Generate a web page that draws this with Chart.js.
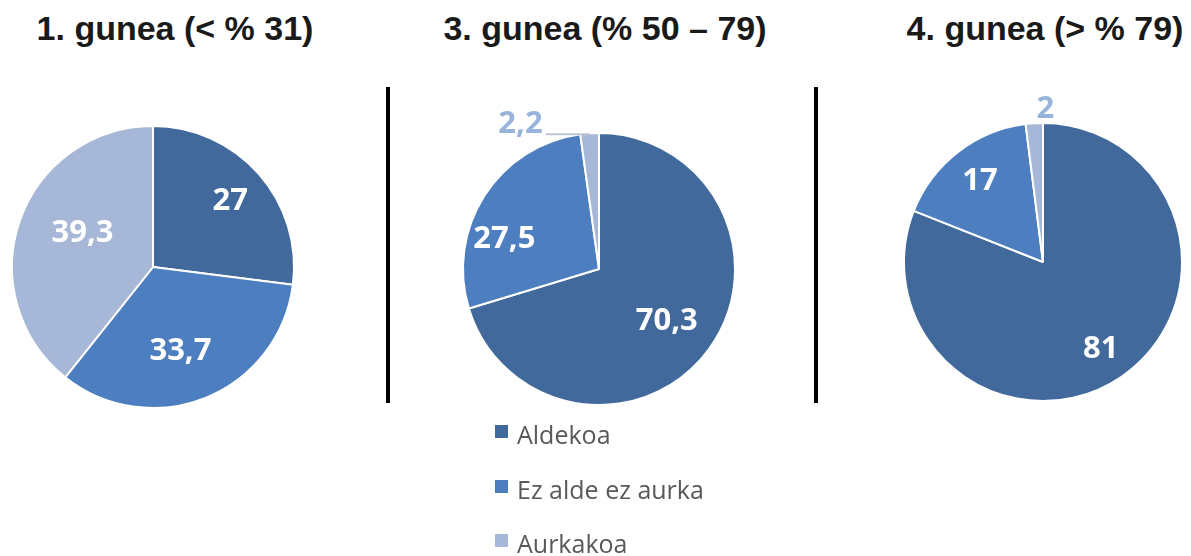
<!DOCTYPE html>
<html>
<head>
<meta charset="utf-8">
<script src="https://cdn.jsdelivr.net/npm/chart.js@4.4.1/dist/chart.umd.min.js"></script>
<style>
  html, body { margin: 0; padding: 0; background: #fff; overflow: hidden; }
  body { width: 1191px; height: 556px; position: relative; }
  .title { position: absolute; top: 11px; width: 400px; text-align: center; white-space: nowrap;
           font: bold 34px "Liberation Sans", Arial, sans-serif; line-height: 34px; color: #1a1a1a; }
  .sep { position: absolute; top: 87px; width: 4px; height: 316px; background: #000; }
  canvas { position: absolute; }
  .item { position: absolute; left: 495px; white-space: nowrap; line-height: 25px;
          font: 25px "Open Sans", sans-serif; color: #595959; }
  .item .box { position: absolute; left: 0; top: 8px; width: 13px; height: 13px; }
  .item .txt { margin-left: 22px; }
</style>
</head>
<body>
<div class="title" id="t1" style="left:-25px"></div>
<div class="title" id="t2" style="left:405px"></div>
<div class="title" id="t3" style="left:845px"></div>
<div class="sep" style="left:386px"></div>
<div class="sep" style="left:814px"></div>
<canvas id="gunea1" width="360" height="360" style="left:-27px; top:87px"></canvas>
<canvas id="gunea3" width="360" height="360" style="left:419px; top:89px"></canvas>
<canvas id="gunea4" width="360" height="360" style="left:863px; top:82px"></canvas>
<div id="legend"></div>
<script>
const categories = ['Aldekoa', 'Ez alde ez aurka', 'Aurkakoa'];
const titles = ['1. gunea (< % 31)', '3. gunea (% 50 – 79)', '4. gunea (> % 79)'];
const gunea1 = [27, 33.7, 39.3];
const gunea3 = [70.3, 27.5, 2.2];
const gunea4 = [81, 17, 2];

const colors = ['#41699B', '#4D7EBF', '#A7B7D7'];

document.getElementById('t1').textContent = titles[0];
document.getElementById('t2').textContent = titles[1];
document.getElementById('t3').textContent = titles[2];

// legend under the middle pie
const legend = document.getElementById('legend');
categories.forEach((c, i) => {
    const item = document.createElement('div');
    item.className = 'item';
    item.style.top = (417 + i * 54.5) + 'px';
    item.innerHTML = '<span class="box" style="background:' + colors[i] + '"></span><span class="txt"></span>';
    item.querySelector('.txt').textContent = c;
    legend.appendChild(item);
});

// value labels, placed on the arcs the library computed
const sliceLabels = {
    id: 'sliceLabels',
    afterDatasetsDraw(chart, args, opts) {
        const ctx = chart.ctx;
        const values = chart.data.datasets[0].data;
        ctx.save();
        ctx.font = 'bold 31px "Open Sans", sans-serif';
        ctx.textBaseline = 'alphabetic';
        chart.getDatasetMeta(0).data.forEach((arc, i) => {
            const p = arc.getProps(['x', 'y', 'startAngle', 'endAngle', 'outerRadius'], true);
            const mid = (p.startAngle + p.endAngle) / 2;
            const text = String(values[i]).replace('.', ',');
            const out = opts.outside && opts.outside.index === i ? opts.outside : null;
            if (out) {
                const ex = p.x + Math.cos(mid) * p.outerRadius;
                const ey = p.y + Math.sin(mid) * p.outerRadius;
                ctx.fillStyle = '#98B4DA';
                if (out.line) {
                    ctx.strokeStyle = '#BFC5CE';
                    ctx.lineWidth = 2;
                    ctx.beginPath();
                    ctx.moveTo(ex, ey + 1);
                    ctx.lineTo(ex + out.line, ey + 1);
                    ctx.stroke();
                    ctx.textAlign = 'right';
                    ctx.fillText(text, ex + out.line - 3, ey);
                } else {
                    ctx.textAlign = 'center';
                    ctx.fillText(text, ex + out.dx, ey + out.dy);
                }
            } else {
                const [f, dx, dy] = opts.inside[i];
                const x = p.x + Math.cos(mid) * p.outerRadius * f + dx;
                const y = p.y + Math.sin(mid) * p.outerRadius * f + dy;
                ctx.fillStyle = '#fff';
                ctx.textAlign = 'center';
                ctx.fillText(text, x, y + 11);
            }
        });
        ctx.restore();
    }
};

function makePie(id, values, radius, labelOpts) {
    new Chart(document.getElementById(id), {
        type: 'pie',
        data: {
            labels: categories,
            datasets: [{
                data: values,
                backgroundColor: colors,
                borderColor: '#fff',
                borderWidth: 2,
                radius: radius,
            }]
        },
        options: {
            responsive: false,
            animation: false,
            layout: { padding: 0 },
            plugins: {
                legend: { display: false },
                tooltip: { enabled: false },
                sliceLabels: labelOpts,
            }
        },
        plugins: [sliceLabels],
    });
}

makePie('gunea1', gunea1, 141, {
    inside: [[0.73, 0, 0], [0.61, -5, 2], [0.56, 4, -10]],
});
makePie('gunea3', gunea3, 136, {
    inside: [[0.62, 0, 0], [0.73, -11, 21]],
    outside: { index: 2, line: -44 },
});
makePie('gunea4', gunea4, 139, {
    inside: [[0.74, 0, 0], [0.74, 0, -2]],
    outside: { index: 2, dx: 11, dy: -5 },
});
</script>
</body>
</html>
